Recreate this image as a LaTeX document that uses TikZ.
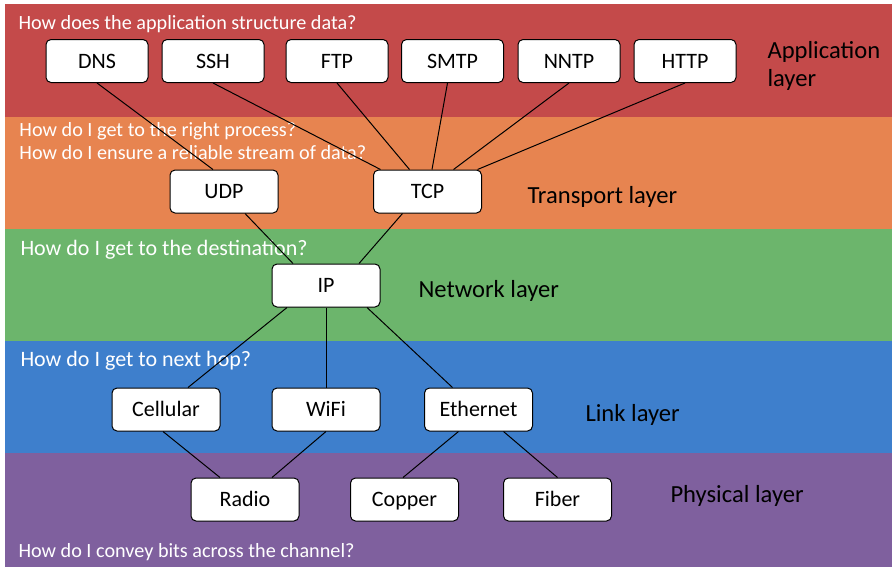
\documentclass[tikz,border=0pt]{standalone}
\usepackage{fontspec}
\setmainfont{Carlito}
\definecolor{applred}{RGB}{196,74,74}
\definecolor{transorange}{RGB}{231,132,80}
\definecolor{netgreen}{RGB}{108,181,108}
\definecolor{linkblue}{RGB}{62,127,204}
\definecolor{physpurple}{RGB}{127,96,158}
\begin{document}
\begin{tikzpicture}[x=1pt,y=-1pt,line width=1pt,
  proto/.style={draw=black,fill=white,line width=1pt,rounded corners=5pt,minimum width=102pt,minimum height=43pt,inner sep=0pt,text height=17pt,text depth=3pt,font=\fontsize{22}{26}\selectfont},
  wide/.style={proto,minimum width=108pt},
  ask/.style={text=white,anchor=base west,inner sep=0pt,font=\fontsize{20.2}{24}\selectfont},
  bigask/.style={ask,font=\fontsize{22}{26}\selectfont},
  layer/.style={anchor=west,inner sep=0pt,align=left,font=\fontsize{24.6}{28}\selectfont}]
\useasboundingbox (0,0) rectangle (896,571);
% bands
\fill[applred] (5,4) rectangle (892,117);
\fill[transorange] (5,117) rectangle (892,229);
\fill[netgreen] (5,229) rectangle (892,341);
\fill[linkblue] (5,341) rectangle (892,453);
\fill[physpurple] (5,453) rectangle (892,567);
% questions
\node[ask] (qapp) at (18,29) {How does the application structure data?};
\node[ask] (qproc) at (19,136) {How do I get to the right process?};
\node[ask] (qstream) at (19,159) {How do I ensure a reliable stream of data?};
\node[bigask] (qdest) at (20,255) {How do I get to the destination?};
\node[bigask] (qhop) at (20,366) {How do I get to next hop?};
\node[ask] (qbits) at (18,557) {How do I convey bits across the channel?};
% layer names
\node[layer] (lapp) at (767,66) {Application\\layer};
\node[layer] (ltrans) at (527,197) {Transport layer};
\node[layer] (lnet) at (418,291) {Network layer};
\node[layer] (llink) at (585,415) {Link layer};
\node[layer] (lphys) at (670,496) {Physical layer};
% protocols
\node[proto] (dns) at (97,61) {DNS};
\node[proto] (ssh) at (213,61) {SSH};
\node[proto] (ftp) at (337,61) {FTP};
\node[proto] (smtp) at (452.5,61) {SMTP};
\node[proto] (nntp) at (569,61) {NNTP};
\node[proto] (http) at (685,61) {HTTP};
\node[wide] (udp) at (224,191.5) {UDP};
\node[wide] (tcp) at (427.5,191.5) {TCP};
\node[wide] (ip) at (326,285.5) {IP};
\node[wide] (cell) at (166,409.5) {Cellular};
\node[wide] (wifi) at (326,409.5) {WiFi};
\node[wide] (eth) at (478.5,409.5) {Ethernet};
\node[wide] (radio) at (245,499.5) {Radio};
\node[wide] (copper) at (404.5,499.5) {Copper};
\node[wide] (fiber) at (557.5,499.5) {Fiber};
% links
\draw (dns.south) -- ([xshift=-11pt]udp.north);
\draw (ssh.south) -- ([xshift=-47pt]tcp.north);
\draw (ftp.south) -- ([xshift=-18pt]tcp.north);
\draw ([xshift=-5pt]smtp.south) -- ([xshift=4.5pt]tcp.north);
\draw (nntp.south) -- ([xshift=26pt]tcp.north);
\draw (http.south) -- ([xshift=50pt]tcp.north);
\draw ([xshift=21pt]udp.south) -- ([xshift=-33pt]ip.north);
\draw ([xshift=-25pt]tcp.south) -- ([xshift=33pt]ip.north);
\draw ([xshift=-39pt]ip.south) -- ([xshift=22pt]cell.north);
\draw (ip.south) -- (wifi.north);
\draw ([xshift=41pt]ip.south) -- ([xshift=-26pt]eth.north);
\draw ([xshift=-3pt]cell.south) -- ([xshift=-25pt]radio.north);
\draw (wifi.south) -- ([xshift=27pt]radio.north);
\draw ([xshift=-20pt]eth.south) -- ([xshift=-1.5pt]copper.north);
\draw ([xshift=25pt]eth.south) -- (fiber.north);
\end{tikzpicture}
\end{document}
